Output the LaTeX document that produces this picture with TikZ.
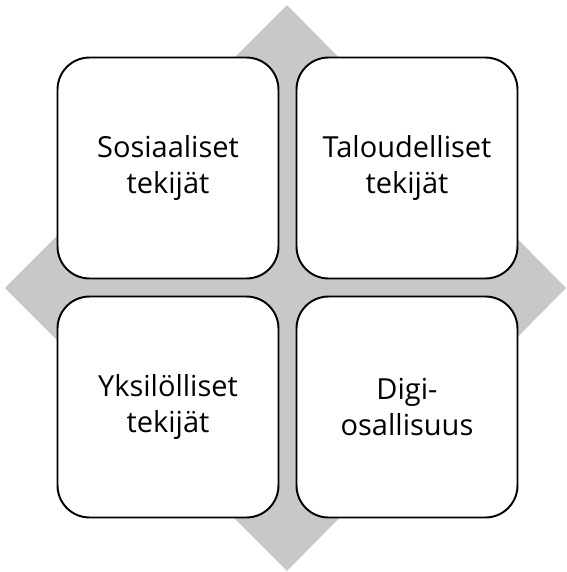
\documentclass[tikz,border=0pt]{standalone}
\usepackage{fontspec}
\setmainfont{Open Sans}
\usepackage{xcolor}
\definecolor{diamondgray}{RGB}{200,200,200}
\tikzset{
    tekijabox/.style={draw, rectangle, rounded corners=0.64cm, fill=white, line width=1.1pt,
        minimum width=4.42cm, minimum height=4.42cm, align=center,
        font=\fontsize{16.5}{20}\selectfont}
}

\begin{document}
\begin{tikzpicture}[x=0.02cm, y=-0.02cm]
        \useasboundingbox (0,0) rectangle (566,572);
        % grey diamond behind the boxes
        \fill[diamondgray] (287,5) -- (566,288) -- (287,571) -- (5,288) -- cycle;
        \node[tekijabox] (sosiaaliset) at (168,168) {Sosiaaliset\\tekijät};
        \node[tekijabox] (taloudelliset) at (407,168) {Taloudelliset\\tekijät};
        \node[tekijabox] (yksilolliset) at (168,407) {Yksilölliset\\tekijät};
        \node[tekijabox] (digi) at (407,407) {Digi-\\osallisuus};
    \end{tikzpicture}
\end{document}
